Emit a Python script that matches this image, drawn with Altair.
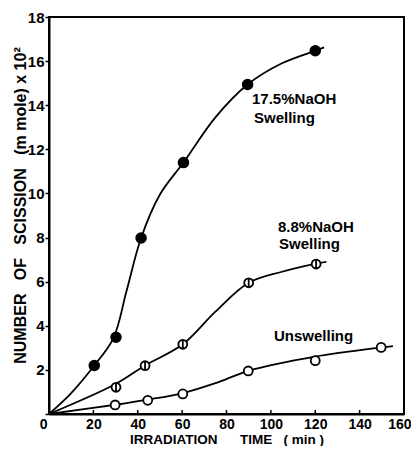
import altair as alt
import pandas as pd

# ---- data ----
x_ticks = [0, 20, 40, 60, 80, 100, 120, 140, 160]
y_ticks = [0, 2, 4, 6, 8, 10, 12, 14, 16, 18]

naoh175_time = [20.4, 30.2, 41.5, 60.6, 89.5, 120]
naoh175_scission = [2.2, 3.48, 7.98, 11.4, 14.94, 16.47]
naoh88_time = [30.2, 43.3, 60.3, 90, 120.4]
naoh88_scission = [1.21, 2.19, 3.16, 5.95, 6.8]
unsw_time = [29.8, 44.5, 60.3, 89.8, 120, 149.7]
unsw_scission = [0.41, 0.62, 0.91, 1.95, 2.42, 3.02]

# smooth curves as drawn
c175_time = [0, 10, 20.4, 29, 35, 41.5, 50, 60.6, 75, 89.5, 105, 120, 124]
c175_scission = [0, 0.95, 2.2, 3.43, 5.6, 7.98, 9.95, 11.4, 13.45, 14.94, 15.9, 16.47, 16.62]
c88_time = [0, 30, 43.3, 60.3, 75, 90, 105, 120.4, 125]
c88_scission = [0, 1.36, 2.2, 3.16, 4.64, 5.95, 6.45, 6.82, 6.9]
cun_time = [0, 30, 44.5, 60.3, 75, 90, 120, 150, 155]
cun_scission = [0, 0.42, 0.65, 0.95, 1.4, 1.96, 2.6, 3.02, 3.08]

label_text = ["17.5%NaOH", "Swelling", "8.8%NaOH", "Swelling", "Unswelling"]
label_x = [91.5, 92.4, 103.2, 103.7, 101.4]
label_y = [14.28, 13.4, 8.48, 7.7, 3.54]

FONT = "Liberation Sans"
W, H = 355, 397

xs = alt.Scale(domain=[0, 160], nice=False, zero=True)
ys = alt.Scale(domain=[0, 18], nice=False, zero=True)

nb = "\u00a0"
x_title = "IRRADIATION" + nb * 6 + "TIME" + nb * 3 + "(" + nb + "min" + nb + ")"
y_title = ("NUMBER" + nb * 3 + "OF" + nb * 3 + "SCISSION" + nb * 3 + "(m" + nb + "mole)"
           + nb + "x" + nb + "10\u00b2")

x_axis = alt.Axis(values=x_ticks, title=x_title, ticks=False, tickSize=0,
                  labelPadding=3, labelFontSize=14, labelFontWeight="bold",
                  labelFont=FONT, labelColor="black",
                  labelAlign={"condition": [{"test": "datum.value == 0", "value": "right"},
                                            {"test": "datum.value == 160", "value": "right"}],
                              "value": "center"},
                  labelOffset={"condition": [{"test": "datum.value == 0", "value": -2},
                                             {"test": "datum.value == 160", "value": 7}],
                               "value": 0},
                  titleFont=FONT, titleFontSize=13.5, titleFontWeight="bold",
                  titleColor="black", titleY=25, titleBaseline="middle",
                  domainColor="black", domainWidth=2, grid=False)
y_axis = alt.Axis(values=y_ticks, title=y_title, tickSize=4, tickWidth=1.5,
                  tickColor="black", labelPadding=1, labelFontSize=15,
                  labelFontWeight="bold", labelFont=FONT, labelColor="black",
                  labelExpr="datum.value == 0 ? '' : datum.label",
                  titleFont=FONT, titleFontSize=16, titleFontWeight="bold",
                  titleColor="black", titleX=-29, titleY=188, titleBaseline="middle",
                  titleAngle=270, titleAlign="center",
                  domainColor="black", domainWidth=2, grid=False)


def curve(t, s):
    df = pd.DataFrame({"time": t, "scission": s})
    return alt.Chart(df).mark_line(color="black", strokeWidth=1.8, interpolate="catmull-rom").encode(
        x=alt.X("time:Q", scale=xs, axis=x_axis),
        y=alt.Y("scission:Q", scale=ys, axis=y_axis),
    )


def points(t, s, shape, filled, size):
    df = pd.DataFrame({"time": t, "scission": s})
    return alt.Chart(df).mark_point(shape=shape, filled=filled, size=size,
                                    color="black", fill="black" if filled else "white",
                                    stroke="black", strokeWidth=1.8, opacity=1).encode(
        x=alt.X("time:Q", scale=xs),
        y=alt.Y("scission:Q", scale=ys),
    )


half_shape = "M-1,0A1,1 0 1,0 1,0A1,1 0 1,0 -1,0Z M0,-1L0,1"

tick_df = pd.DataFrame({"t": x_ticks[1:-1]})
inward_ticks = alt.Chart(tick_df).mark_rule(color="black", strokeWidth=1.5).encode(
    x=alt.X("t:Q", scale=xs), y=alt.value(H), y2=alt.value(H - 4)
)

lab_df = pd.DataFrame({"x": label_x, "y": label_y, "text": label_text})
labels = alt.Chart(lab_df).mark_text(align="left", baseline="middle", font=FONT,
                                     fontSize=15, fontWeight="bold", color="black").encode(
    x=alt.X("x:Q", scale=xs), y=alt.Y("y:Q", scale=ys), text="text:N"
)

chart = alt.layer(
    curve(c175_time, c175_scission),
    curve(c88_time, c88_scission),
    curve(cun_time, cun_scission),
    points(naoh175_time, naoh175_scission, "circle", True, 95),
    points(naoh88_time, naoh88_scission, half_shape, False, 80),
    points(unsw_time, unsw_scission, "circle", False, 80),
    inward_ticks,
    labels,
).properties(
    width=W, height=H,
    autosize=alt.AutoSizeParams(type="none"),
    padding={"left": 41, "top": 9, "right": 7, "bottom": 32},
    background="white",
).configure_view(stroke="black", strokeWidth=2)

chart.save("out.html", embed_options={"renderer": "svg", "actions": False})
